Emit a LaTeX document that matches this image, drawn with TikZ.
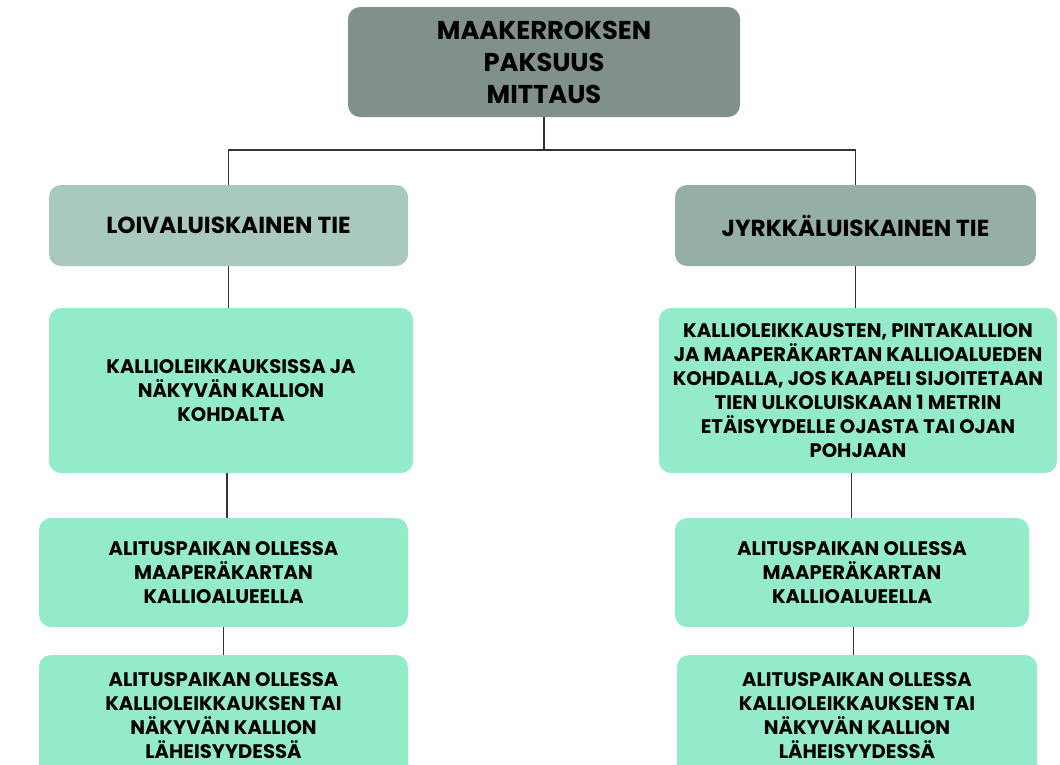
\documentclass[tikz,border=0pt]{standalone}
\usepackage{fontspec}
\setmainfont{Poppins}
\definecolor{topgray}{HTML}{7F918A}
\definecolor{loivagreen}{HTML}{A9C9BC}
\definecolor{jyrkgray}{HTML}{95AFA5}
\definecolor{mint}{HTML}{93EBC9}
\tikzset{
  box/.style={rounded corners=9pt, inner sep=0pt, align=center,
    text=black, font=\bfseries\fontsize{14.7}{18}\selectfont},
  topbox/.style={box, fill=topgray, font=\bfseries\fontsize{19.3}{24}\selectfont},
  roadbox/.style={box, font=\bfseries\fontsize{17.4}{20}\selectfont},
  casebox/.style={box, fill=mint},
  link/.style={line width=0.9pt, black!80}
}
\begin{document}
\begin{tikzpicture}[x=0.75pt,y=-0.75pt]
  \useasboundingbox (0,0) rectangle (1060,764);

  % ylin taso
  \node[topbox, minimum width=392*0.75pt, minimum height=110*0.75pt] (top) at (544,62)
    {MAAKERROKSEN\\PAKSUUS\\MITTAUS};

  % tietyypit
  \node[roadbox, fill=loivagreen, minimum width=359*0.75pt, minimum height=81*0.75pt] (loiva) at (228.5,225.5)
    {LOIVALUISKAINEN TIE};
  \node[roadbox, fill=jyrkgray, minimum width=361*0.75pt, minimum height=81*0.75pt] (jyrk) at (855.5,225.5)
    {JYRKKÄLUISKAINEN TIE};

  %%%% vasen haara
  \node[casebox, minimum width=364*0.75pt, minimum height=165*0.75pt] (l1) at (231,390.5)
    {KALLIOLEIKKAUKSISSA JA\\NÄKYVÄN KALLION\\KOHDALTA};
  \node[casebox, minimum width=369*0.75pt, minimum height=109*0.75pt] (l2) at (223.5,572.5)
    {ALITUSPAIKAN OLLESSA\\MAAPERÄKARTAN\\KALLIOALUEELLA};
  \node[casebox, minimum width=369*0.75pt, minimum height=122*0.75pt] (l3) at (223.5,716)
    {ALITUSPAIKAN OLLESSA\\KALLIOLEIKKAUKSEN TAI\\NÄKYVÄN KALLION\\LÄHEISYYDESSÄ};

  %%%% oikea haara
  \node[casebox, minimum width=398*0.75pt, minimum height=165*0.75pt] (r1) at (858,390.5)
    {KALLIOLEIKKAUSTEN, PINTAKALLION\\JA MAAPERÄKARTAN KALLIOALUEDEN\\
     KOHDALLA, JOS KAAPELI SIJOITETAAN\\TIEN ULKOLUISKAAN 1 METRIN\\
     ETÄISYYDELLE OJASTA TAI OJAN\\POHJAAN};
  \node[casebox, minimum width=354*0.75pt, minimum height=109*0.75pt] (r2) at (852,572.5)
    {ALITUSPAIKAN OLLESSA\\MAAPERÄKARTAN\\KALLIOALUEELLA};
  \node[casebox, minimum width=360*0.75pt, minimum height=122*0.75pt] (r3) at (857,716)
    {ALITUSPAIKAN OLLESSA\\KALLIOLEIKKAUKSEN TAI\\NÄKYVÄN KALLION\\LÄHEISYYDESSÄ};

  % yhdysviivat
  \coordinate (split) at (544,150);
  \draw[link] (top.south) -- (split);
  \draw[link] (split) -| (loiva.north);
  \draw[link] (split) -| (jyrk.north);

  \draw[link] (loiva.south) -- (loiva.south |- l1.north);
  \draw[link] ([xshift=-3]l1.south) -- ([xshift=-3]l1.south |- l2.north);
  \draw[link] (l2.south) -- (l2.south |- l3.north);

  \draw[link] (jyrk.south) -- (jyrk.south |- r1.north);
  \draw[link] ([xshift=-5]r1.south) -- ([xshift=-5]r1.south |- r2.north);
  \draw[link] ([xshift=1]r2.south) -- ([xshift=1]r2.south |- r3.north);
\end{tikzpicture}
\end{document}
